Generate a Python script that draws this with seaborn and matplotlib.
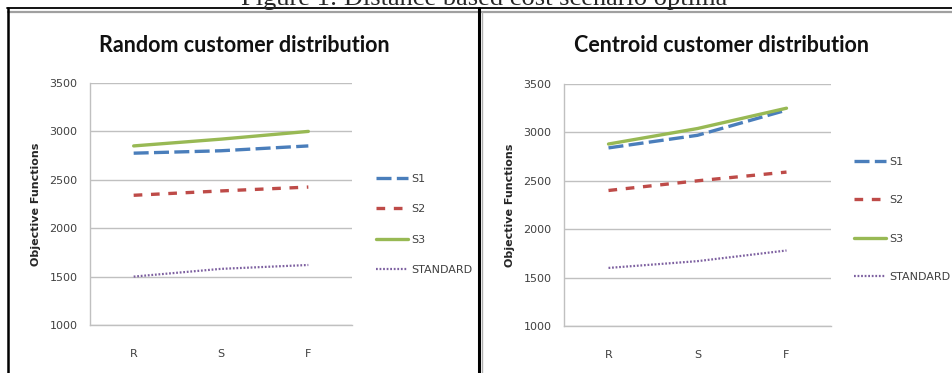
import numpy as np
import pandas as pd
import matplotlib
matplotlib.use("Agg")
import matplotlib.pyplot as plt
from matplotlib.lines import Line2D
import seaborn as sns

categories = ['R', 'S', 'F']
series_names = ['S1', 'S2', 'S3', 'STANDARD']

# Random customer distribution
random_s1 = [2775, 2800, 2850]
random_s2 = [2340, 2385, 2425]
random_s3 = [2850, 2920, 3000]
random_std = [1500, 1580, 1620]

# Centroid customer distribution
centroid_s1 = [2840, 2970, 3230]
centroid_s2 = [2400, 2500, 2590]
centroid_s3 = [2880, 3040, 3250]
centroid_std = [1600, 1670, 1780]

yticks = [1000, 1500, 2000, 2500, 3000, 3500]

colors = {'S1': '#4A7EBB', 'S2': '#BE4B48', 'S3': '#98B954', 'STANDARD': '#7D60A0'}
styles = {'S1': ((0, (4.5, 1.6)), 2.4),
          'S2': ((0, (2.6, 2.6)), 2.4),
          'S3': ('-', 2.4),
          'STANDARD': ((0, (0.8, 0.8)), 1.6)}

sns.set_style("white")
W, H = 952, 373
fig = plt.figure(figsize=(W / 100, H / 100), dpi=100)


def px_axes(x0, x1, y0, y1):
    return fig.add_axes([x0 / W, 1 - y1 / H, (x1 - x0) / W, (y1 - y0) / H])


def draw_panel(ax, data, title, title_x, leg_x, leg_y, leg_space):
    for name, vals in zip(series_names, data):
        sns.lineplot(x=categories, y=vals, ax=ax, color=colors[name], label=name, sort=False)
        ln = ax.lines[-1]
        ls, lw = styles[name]
        ln.set_linestyle(ls)
        ln.set_linewidth(lw)
    ax.set_xlim(-0.5, 2.5)
    ax.set_ylim(1000, 3500)
    ax.set_yticks(yticks)
    ax.set_yticklabels([str(t) for t in yticks])
    ax.grid(axis='y', color='#C0C0C0', linewidth=1.0)
    ax.set_axisbelow(True)
    for s in ['top', 'right']:
        ax.spines[s].set_visible(False)
    for s in ['left', 'bottom']:
        ax.spines[s].set_color('#C0C0C0')
        ax.spines[s].set_linewidth(1.0)
    ax.tick_params(axis='both', length=0, labelsize=8, labelcolor='#404040')
    ax.tick_params(axis='x', pad=17)
    ax.tick_params(axis='y', pad=9)
    ax.set_ylabel('Objective Functions', fontsize=8, fontweight='bold', labelpad=6)
    ax.set_xlabel('')
    fig.text(title_x / W, 1 - 46 / H, title, ha='center', va='center',
             fontsize=15.5, fontweight='bold', family='Lato', color='#111111')
    h, l = ax.get_legend_handles_labels()
    ax.legend(h, l, loc='upper left', bbox_to_anchor=(leg_x / W, 1 - leg_y / H),
              bbox_transform=fig.transFigure, frameon=False, fontsize=8,
              labelspacing=leg_space, handlelength=2.9, handletextpad=0.3,
              labelcolor='#404040')


ax1 = px_axes(90, 352, 83, 325)
draw_panel(ax1, [random_s1, random_s2, random_s3, random_std],
           'Random customer distribution', 244, 366, 164, 1.83)

ax2 = px_axes(564, 831, 84, 326)
draw_panel(ax2, [centroid_s1, centroid_s2, centroid_s3, centroid_std],
           'Centroid customer distribution', 722, 844, 147, 2.55)

# caption, partly cut by the top edge as in the scanned page
fig.text(484 / W, 1 - 5 / H, 'Figure 1: Distance based cost scenario optima',
         ha='center', va='baseline', fontsize=19, family='Liberation Serif')

# panel frame lines
fig.add_artist(Line2D([7 / W, 1], [1 - 8 / H] * 2, color='black', lw=1.3))
fig.add_artist(Line2D([8 / W, 1], [1 - 11.5 / H] * 2, color='#A0A0A0', lw=1.6))
fig.add_artist(Line2D([8 / W] * 2, [0, 1 - 8 / H], color='black', lw=1.8))
fig.add_artist(Line2D([479 / W] * 2, [0, 1 - 8 / H], color='black', lw=2.2))
fig.add_artist(Line2D([481.5 / W] * 2, [0, 1 - 12 / H], color='#B0B0B0', lw=1.0))

fig.savefig('out.png', dpi=100)
